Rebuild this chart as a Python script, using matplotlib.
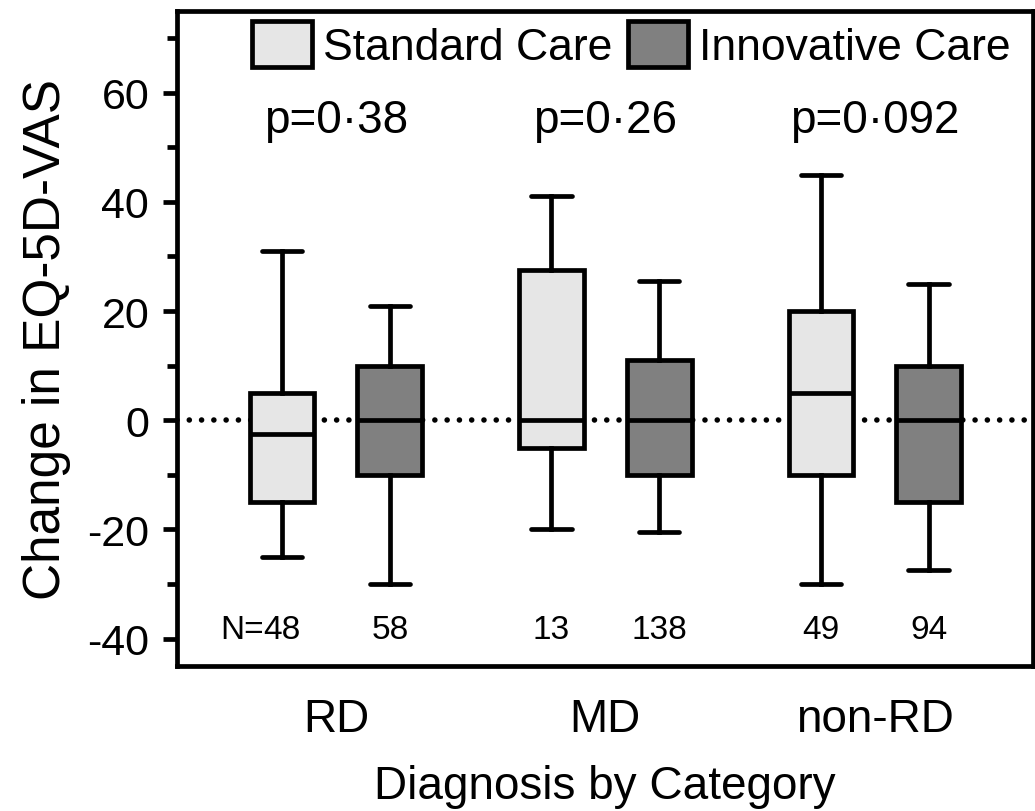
import matplotlib
matplotlib.use('Agg')
import matplotlib.pyplot as plt
from matplotlib.patches import Patch

plt.rcParams['font.family'] = ['Liberation Sans', 'DejaVu Sans']
plt.rcParams['axes.unicode_minus'] = False

# Box plot summary values
categories = ['RD', 'MD', 'non-RD']
groups = ['Standard Care', 'Innovative Care']
# whisker low, q1, median, q3, whisker high
standard_stats = [(-25, -15, -2.5, 5, 31), (-20, -5, 0, 27.5, 41), (-30, -10, 5, 20, 45)]
innovative_stats = [(-30, -10, 0, 10, 21), (-20.5, -10, 0, 11, 25.5), (-27.5, -15, 0, 10, 25)]
standard_n = ['48', '13', '49']
innovative_n = ['58', '138', '94']
p_values = ['p=0\u00b738', 'p=0\u00b726', 'p=0\u00b7092']
colors = ['#e6e6e6', '#808080']

fig = plt.figure(figsize=(10.35, 8.12), dpi=100)
ax = fig.add_axes([0.171, 0.1786, 0.827, 0.807])

offset = 0.2
lw = 3.4
for g, (stats_list, col) in enumerate(zip([standard_stats, innovative_stats], colors)):
    bstats = []
    for lo, q1, med, q3, hi in stats_list:
        bstats.append(dict(whislo=lo, q1=q1, med=med, q3=q3, whishi=hi, fliers=[]))
    pos = [i + 1 + (offset if g else -offset) for i in range(len(categories))]
    ax.bxp(bstats, positions=pos, widths=0.24, patch_artist=True, showfliers=False,
           capwidths=0.15,
           boxprops=dict(facecolor=col, edgecolor='black', linewidth=lw),
           medianprops=dict(color='black', linewidth=lw),
           whiskerprops=dict(color='black', linewidth=lw),
           capprops=dict(color='black', linewidth=lw, solid_capstyle='round'),
           zorder=3)

ax.axhline(0, color='black', lw=4, linestyle=(0, (0.01, 2.2)),
           dash_capstyle='round', zorder=2)

for i in range(len(categories)):
    ax.text(i + 1, 55, p_values[i], ha='center', va='center', fontsize=33)
    t = ax.text(i + 1 - offset, -38.3, standard_n[i], ha='center', va='center', fontsize=24)
    if i == 0:
        ax.annotate('N=', xy=(0, 0.5), xycoords=t, ha='right', va='center', fontsize=24)
    ax.text(i + 1 + offset, -38.3, innovative_n[i], ha='center', va='center', fontsize=24)

ax.set_xlim(0.41, 3.587)
ax.set_ylim(-45, 75)
ax.set_yticks([-40, -20, 0, 20, 40, 60])
ax.set_yticks(range(-30, 71, 20), minor=True)
ax.set_xticks([1, 2, 3])
ax.set_xticklabels(categories, fontsize=33)
ax.tick_params(axis='x', length=0, pad=22)
ax.tick_params(axis='y', which='major', length=10, width=3.4, labelsize=31, pad=10)
ax.tick_params(axis='y', which='minor', length=7, width=3.4)
for s in ax.spines.values():
    s.set_linewidth(3.4)

ax.set_ylabel('Change in EQ-5D-VAS', fontsize=37, labelpad=12)
ax.set_xlabel('Diagnosis by Category', fontsize=33, labelpad=17)

handles = [Patch(facecolor=c, edgecolor='black', linewidth=3.4) for c in colors]
ax.legend(handles, groups, loc='center right', bbox_to_anchor=(0.995, 0.948), ncol=2,
          frameon=False, handlelength=1.35, handleheight=1.2, borderaxespad=0,
          handletextpad=0.25, columnspacing=0.35,
          prop={'family': ['Liberation Sans Narrow', 'Liberation Sans'], 'size': 32})

fig.savefig('out.png', dpi=100)
